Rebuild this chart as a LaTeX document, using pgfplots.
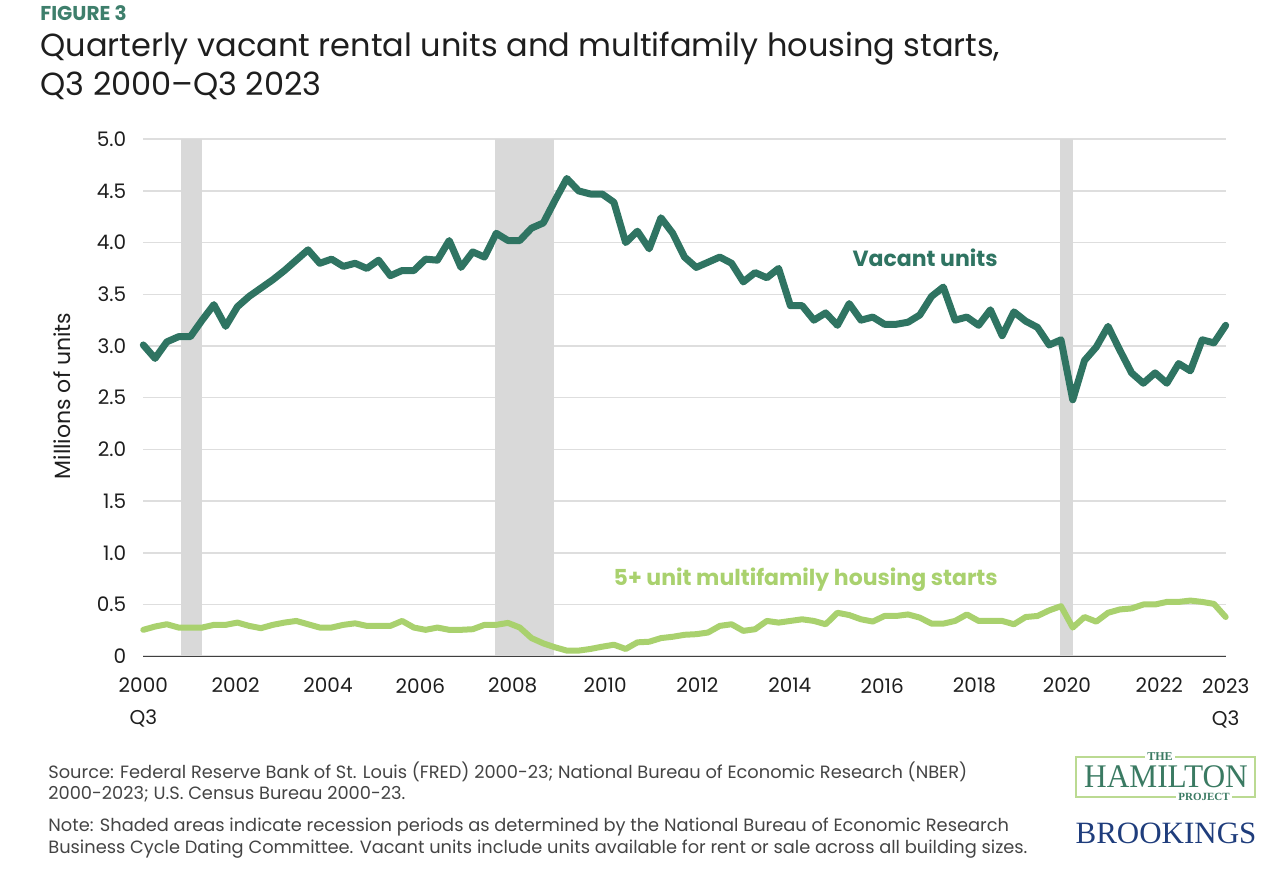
\documentclass[border=0pt]{standalone}
\usepackage{pgfplots}
\pgfplotsset{compat=1.18}
\usepackage{fontspec}
\setmainfont{Poppins}
\newfontfamily\logofont{Liberation Serif}
\definecolor{vgreen}{HTML}{2F7462}
\definecolor{lgreen}{HTML}{A9D16E}
\definecolor{figgreen}{HTML}{3E7F6C}
\definecolor{recgray}{HTML}{D9D9D9}
\definecolor{gridgray}{HTML}{DEDEDE}
\definecolor{txt}{HTML}{1E1E1E}
\definecolor{srcgray}{HTML}{444444}
\definecolor{hamgreen}{HTML}{3A7A62}
\definecolor{hambox}{HTML}{BBDA92}
\definecolor{navy}{HTML}{1F3D7C}

\pgfplotstableread{
q v
0 3.01
1 2.88
2 3.04
3 3.09
4 3.09
5 3.25
6 3.40
7 3.19
8 3.38
9 3.48
10 3.56
11 3.64
12 3.73
13 3.83
14 3.93
15 3.80
16 3.84
17 3.77
18 3.80
19 3.75
20 3.83
21 3.68
22 3.73
23 3.73
24 3.84
25 3.83
26 4.02
27 3.76
28 3.91
29 3.86
30 4.09
31 4.02
32 4.02
33 4.14
34 4.19
35 4.41
36 4.62
37 4.50
38 4.47
39 4.47
40 4.39
41 4.00
42 4.11
43 3.94
44 4.24
45 4.09
46 3.86
47 3.76
48 3.81
49 3.86
50 3.80
51 3.62
52 3.71
53 3.66
54 3.75
55 3.39
56 3.39
57 3.25
58 3.32
59 3.20
60 3.41
61 3.25
62 3.28
63 3.21
64 3.21
65 3.23
66 3.30
67 3.48
68 3.57
69 3.25
70 3.28
71 3.20
72 3.35
73 3.10
74 3.33
75 3.24
76 3.18
77 3.01
78 3.06
79 2.48
80 2.86
81 2.99
82 3.19
83 2.96
84 2.74
85 2.64
86 2.74
87 2.64
88 2.83
89 2.76
90 3.06
91 3.03
92 3.20
}\vacant

\pgfplotstableread{
q m
0 0.255
1 0.287
2 0.309
3 0.277
4 0.277
5 0.277
6 0.303
7 0.303
8 0.325
9 0.293
10 0.271
11 0.303
12 0.325
13 0.341
14 0.309
15 0.277
16 0.277
17 0.303
18 0.318
19 0.293
20 0.293
21 0.293
22 0.341
23 0.277
24 0.255
25 0.277
26 0.255
27 0.255
28 0.261
29 0.303
30 0.303
31 0.322
32 0.277
33 0.175
34 0.124
35 0.086
36 0.054
37 0.054
38 0.070
39 0.092
40 0.111
41 0.070
42 0.134
43 0.140
44 0.175
45 0.188
46 0.207
47 0.213
48 0.229
49 0.293
50 0.309
51 0.245
52 0.261
53 0.341
54 0.325
55 0.341
56 0.357
57 0.341
58 0.309
59 0.420
60 0.398
61 0.357
62 0.335
63 0.389
64 0.389
65 0.404
66 0.373
67 0.315
68 0.315
69 0.341
70 0.404
71 0.341
72 0.341
73 0.341
74 0.309
75 0.379
76 0.389
77 0.443
78 0.484
79 0.277
80 0.379
81 0.334
82 0.420
83 0.452
84 0.462
85 0.500
86 0.500
87 0.525
88 0.525
89 0.538
90 0.525
91 0.506
92 0.379
}\starts

\begin{document}
\begin{tikzpicture}[x=1pt,y=1pt]
\path[use as bounding box] (0,0) rectangle (638,437);
% header
\node[anchor=base west, inner sep=0, text=figgreen, font=\bfseries\fontsize{10}{12}\selectfont] at (20,426.5) {FIGURE 3};
\node[anchor=base west, inner sep=0, text=txt, font=\fontsize{16}{19}\selectfont] at (20,408.5) {Quarterly vacant rental units and multifamily housing starts,};
\node[anchor=base west, inner sep=0, text=txt, font=\fontsize{16}{19}\selectfont] at (20,389) {Q3 2000--Q3 2023};
% y label
\node[rotate=90, text=txt, font=\fontsize{11}{13}\selectfont] at (31,239) {Millions of units};

\begin{axis}[
  at={(71.65pt,108.9pt)}, anchor=south west,
  scale only axis, width=541.2pt, height=258.5pt,
  xmin=0, xmax=92, ymin=0, ymax=5,
  clip=false,
  axis x line*=bottom, axis y line*=left,
  x axis line style={-, draw=black!75, line width=0.6pt},
  y axis line style={draw=none},
  major tick length=0pt, tick style={draw=none},
  ymajorgrids, grid style={draw=gridgray, line width=0.75pt},
  ytick={0,0.5,1,1.5,2,2.5,3,3.5,4,4.5,5},
  yticklabels={0,0.5,1.0,1.5,2.0,2.5,3.0,3.5,4.0,4.5,5.0},
  xtick={0,7.85,15.7,23.55,31.4,39.25,47.1,54.95,62.8,70.65,78.5,86.35,92},
  xticklabels={2000\\Q3,2002,2004,2006,2008,2010,2012,2014,2016,2018,2020,2022,2023\\Q3},
  yticklabel style={font=\fontsize{10}{12}\selectfont, text=txt, xshift=-5pt},
  xticklabel style={font=\fontsize{10}{16}\selectfont, text=txt, align=center, yshift=-7.5pt},
]
\addplot[fill=recgray, draw=none] coordinates {(3.18,5) (4.96,5)} \closedcycle;
\addplot[fill=recgray, draw=none] coordinates {(29.93,5) (34.9,5)} \closedcycle;
\addplot[fill=recgray, draw=none] coordinates {(77.9,5) (79.0,5)} \closedcycle;
\addplot[lgreen, line width=3pt, line join=round, line cap=round] table[x=q,y=m] {\starts};
\addplot[vgreen, line width=3.5pt, line join=round, line cap=round] table[x=q,y=v] {\vacant};
\node[text=vgreen, font=\bfseries\fontsize{11}{13}\selectfont] at (axis cs:66.45,3.85) {Vacant units};
\node[text=lgreen, font=\bfseries\fontsize{11}{13}\selectfont] at (axis cs:56.3,0.737) {5+ unit multifamily housing starts};
\end{axis}

% source and note
\begin{scope}[every node/.style={anchor=base west, inner sep=0, text=srcgray, font=\fontsize{8.9}{11}\selectfont}]
\node at (24,47.5) {Source: Federal Reserve Bank of St. Louis (FRED) 2000-23; National Bureau of Economic Research (NBER)};
\node at (24,37.5) {2000-2023; U.S. Census Bureau 2000-23.};
\node at (24,21) {Note: Shaded areas indicate recession periods as determined by the National Bureau of Economic Research};
\node at (24,10) {Business Cycle Dating Committee. Vacant units include units available for rent or sale across all building sizes.};
\end{scope}

% logos
\draw[hambox, line width=0.8pt] (538,38.5) rectangle (627.5,58.5);
\node[fill=white, inner sep=1pt, text=hamgreen, font=\logofont\bfseries\fontsize{6}{7}\selectfont] at (580,58.5) {THE};
\node[text=hamgreen, inner sep=0, xscale=0.95, font=\logofont\fontsize{16.5}{18}\selectfont] at (583,48.5) {HAMILTON};
\node[fill=white, inner sep=1pt, text=hamgreen, font=\logofont\bfseries\fontsize{5.5}{7}\selectfont] at (602,38.5) {PROJECT};
\node[text=navy, inner sep=0, font=\logofont\fontsize{15.5}{17}\selectfont] at (583,20.5) {BROOKINGS};
\end{tikzpicture}
\end{document}
